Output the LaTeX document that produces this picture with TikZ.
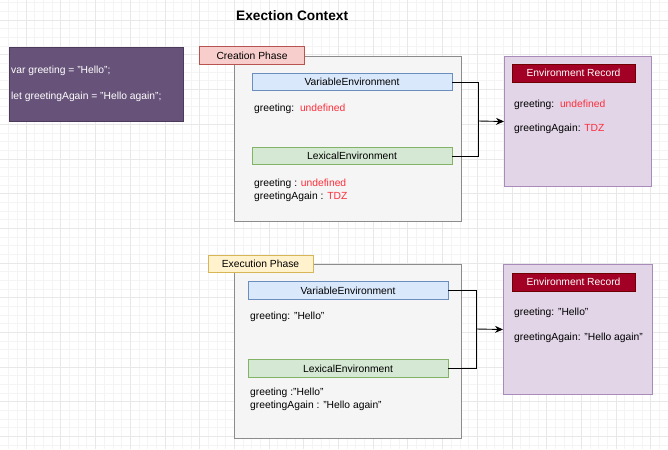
\documentclass[tikz,border=0pt]{standalone}
\usepackage{xcolor}
\usepackage{fontspec}
\setmainfont{Liberation Sans}
\usetikzlibrary{arrows.meta}
\definecolor{gridminor}{HTML}{F4F4F4}
\definecolor{gridmajor}{HTML}{E8E8E8}
\definecolor{codefill}{HTML}{675279}
\definecolor{codeline}{HTML}{4B3A5A}
\definecolor{phasefill}{HTML}{F5F5F5}
\definecolor{phaseline}{HTML}{8C8C8C}
\definecolor{pinkfill}{HTML}{F8CECC}
\definecolor{pinkline}{HTML}{B85450}
\definecolor{yellowfill}{HTML}{FFF2CC}
\definecolor{yellowline}{HTML}{D6B656}
\definecolor{bluefill}{HTML}{DAE8FC}
\definecolor{blueline}{HTML}{6C8EBF}
\definecolor{greenfill}{HTML}{D5E8D4}
\definecolor{greenline}{HTML}{82B366}
\definecolor{recfill}{HTML}{E1D5E7}
\definecolor{recline}{HTML}{A88BB8}
\definecolor{titlefill}{HTML}{A20025}
\definecolor{titleline}{HTML}{6F0000}
\definecolor{tdzred}{HTML}{FF2D3A}
\tikzstyle{phasebox} = [draw=phaseline, fill=phasefill, line width=1pt, rectangle, anchor=north west, inner sep=0pt]
\tikzstyle{recbox} = [draw=recline, fill=recfill, line width=1pt, rectangle, anchor=north west, inner sep=0pt]
\tikzstyle{tagbox} = [rectangle, line width=0.8pt, inner sep=0pt, minimum width=105, minimum height=17.5]
\tikzstyle{envbar} = [rectangle, line width=0.8pt, inner sep=0pt, minimum width=200, minimum height=17.5]
\tikzstyle{rectitle} = [draw=titleline, fill=titlefill, text=white, rectangle, line width=0.8pt, inner sep=0pt, minimum width=123, minimum height=18]
\tikzstyle{txt} = [anchor=west, inner sep=0pt]
\tikzstyle{wire} = [draw=black, line width=0.9pt]

\begin{document}
\begin{tikzpicture}[x=1pt, y=-1pt, font=\fontsize{10.3}{12.5}\selectfont]
	\useasboundingbox[fill=white] (0,0) rectangle (668,449);
	% grid
	\foreach \k in {-2,...,74}
		\draw[gridminor, line width=0.5pt] ({26+\k*8.675},0) -- ({26+\k*8.675},449);
	\foreach \k in {-2,...,49}
		\draw[gridminor, line width=0.5pt] (0,{20+\k*8.675}) -- (668,{20+\k*8.675});
	\foreach \k in {0,...,18}
		\draw[gridmajor, line width=0.6pt] ({26+\k*34.7},0) -- ({26+\k*34.7},449);
	\foreach \k in {0,...,12}
		\draw[gridmajor, line width=0.6pt] (0,{20+\k*34.7}) -- (668,{20+\k*34.7});

	\node[txt, font=\fontsize{13.7}{16}\selectfont\bfseries] (title) at (236,16) {Exection Context};

	% code
	\node[draw=codeline, fill=codefill, line width=1pt, anchor=north west, inner sep=0pt, minimum width=174, minimum height=74] (code) at (9,47) {};
	\node[txt, text=white] (code1) at (11,71) {var greeting = "Hello";};
	\node[txt, text=white] (code2) at (11,97) {let greetingAgain = "Hello again";};

	% creation phase
	\node[phasebox, minimum width=227, minimum height=165] (cbox) at (234,56) {};
	\node[tagbox, draw=pinkline, fill=pinkfill] (ctag) at (252,55.5) {Creation Phase};
	\node[envbar, draw=blueline, fill=bluefill] (cve) at (352,82) {VariableEnvironment};
	\node[txt] (cvar) at (254,109) {greeting:\ \ {\color{tdzred}undefined}};
	\node[envbar, draw=greenline, fill=greenfill] (cle) at (352,156) {LexicalEnvironment};
	\node[txt] (clex1) at (254,184) {greeting : {\color{tdzred}undefined}};
	\node[txt] (clex2) at (254,197) {greetingAgain : {\color{tdzred}TDZ}};

	\node[recbox, minimum width=147, minimum height=130] (cer) at (504,56) {};
	\node[rectitle] (certitle) at (573.5,73) {Environment Record};
	\node[txt] (cer1) at (514,105) {greeting:\ \ {\color{tdzred}undefined}};
	\node[txt] (cer2) at (514,129) {greetingAgain: {\color{tdzred}TDZ}};

	\coordinate (cjoin) at (478,121);
	\draw[wire] (cve.east) -| (cjoin);
	\draw[wire] (cle.east) -| (cjoin);
	\draw[wire, -{Stealth[length=8pt, width=7pt]}] (cjoin) -- (cer.west);

	% execution phase
	\node[phasebox, minimum width=227, minimum height=174] (ebox) at (234,264) {};
	\node[tagbox, draw=yellowline, fill=yellowfill] (etag) at (260.5,264) {Execution Phase};
	\node[envbar, draw=blueline, fill=bluefill] (eve) at (348,290.5) {VariableEnvironment};
	\node[txt] (evar) at (250,317) {greeting: "Hello"};
	\node[envbar, draw=greenline, fill=greenfill] (ele) at (348,368.5) {LexicalEnvironment};
	\node[txt] (elex1) at (250,393) {greeting :"Hello"};
	\node[txt] (elex2) at (250,406) {greetingAgain : "Hello again"};

	\node[recbox, minimum width=149, minimum height=130] (eer) at (503,264) {};
	\node[rectitle] (eertitle) at (573.5,282) {Environment Record};
	\node[txt] (eer1) at (514,313) {greeting: "Hello"};
	\node[txt] (eer2) at (514,338) {greetingAgain: "Hello again"};

	\coordinate (ejoin) at (476,329);
	\draw[wire] (eve.east) -| (ejoin);
	\draw[wire] (ele.east) -| (ejoin);
	\draw[wire, -{Stealth[length=8pt, width=7pt]}] (ejoin) -- (eer.west);
\end{tikzpicture}
\end{document}
